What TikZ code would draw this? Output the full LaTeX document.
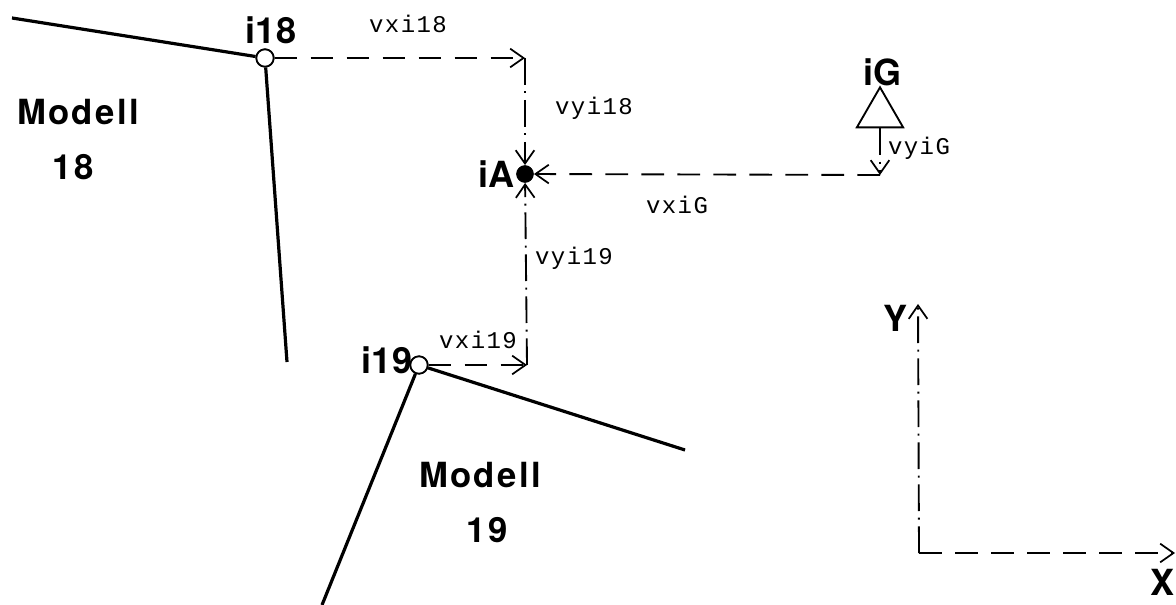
\documentclass[tikz,border=0pt]{standalone}
\usepackage{fontspec}
\setmainfont{TeX Gyre Heros}
\newfontfamily\monofnt[LetterSpace=6]{Liberation Mono}
\newfontfamily\spacedfnt[LetterSpace=7]{TeX Gyre Heros}
\usetikzlibrary{arrows.meta,shapes.geometric}
\begin{document}
\begin{tikzpicture}[x=0.75pt,y=-0.75pt,
  thickline/.style={line width=2.4pt},
  tipstyle/.style={-{Straight Barb[length=10pt,width=14pt,line width=1.3pt]}},
  dashline/.style={line width=1.4pt,dash pattern=on 17pt off 10pt,tipstyle},
  dashdotline/.style={line width=1.4pt,dash pattern=on 20pt off 5pt on 1.5pt off 5pt,tipstyle},
  vlabel/.style={font=\monofnt\fontsize{18}{18}\selectfont,inner sep=0pt},
  blabel/.style={font=\bfseries\fontsize{27}{27}\selectfont,inner sep=0pt},
  mlabel/.style={font=\spacedfnt\bfseries\fontsize{26}{26}\selectfont,inner sep=0pt},
  opennode/.style={circle,draw,line width=1.3pt,fill=white,minimum size=13pt,inner sep=0pt},
  filled/.style={circle,fill=black,minimum size=13pt,inner sep=0pt}]
\useasboundingbox (0,0) rectangle (1176,605);

% nodes
\node[opennode] (i18) at (265,58) {};
\node[filled] (iA) at (525,174) {};
\node[opennode] (i19) at (419,365) {};
\node[regular polygon,regular polygon sides=3,draw,line width=1.4pt,minimum size=40pt,inner sep=0pt] (iG) at (880,114) {};

% coordinates
\coordinate (a18) at (12,18);
\coordinate (b18) at (287,362);
\coordinate (c18) at (525,58);
\coordinate (c19) at (527,365);
\coordinate (a19) at (685,450);
\coordinate (b19) at (322,605);
\coordinate (cG) at (880,175);
\coordinate (O) at (919,553);
\coordinate (Yt) at (918,304);
\coordinate (Xt) at (1175,553);

% model outlines
\draw[thickline] (a18) -- (i18);
\draw[thickline] (i18) -- (b18);
\draw[thickline] (i19) -- (a19);
\draw[thickline] (i19) -- (b19);

% vectors
\draw[dashline] (i18) -- (c18);
\draw[dashdotline] (c18) -- (iA);
\draw[dashline] (i19) -- (c19);
\draw[dashdotline] (c19) -- (iA);
\draw[dashdotline] (iG.south) -- (cG);
\draw[dashline] (cG) -- (iA);

% axes
\draw[dashdotline] (O) -- (Yt);
\draw[dashline] (O) -- (Xt);

% redraw nodes on top
\node[opennode] at (i18) {};
\node[opennode] at (i19) {};
\node[filled] at (iA) {};

% labels
\node[blabel] (li18) at (271,30) {i18};
\node[blabel] (liA) at (496,174) {iA};
\node[blabel] (li19) at (387,360) {i19};
\node[blabel] (liG) at (882,72) {iG};
\node[blabel] (lY) at (895,318) {Y};
\node[blabel] (lX) at (1162,582) {X};

\node[vlabel] (lvxi18) at (408,24) {vxi18};
\node[vlabel] (lvyi18) at (594,108) {vyi18};
\node[vlabel] (lvxiG) at (677,205) {vxiG};
\node[vlabel] (lvyiG) at (919,148) {vyiG};
\node[vlabel] (lvyi19) at (574,258) {vyi19};
\node[vlabel] (lvxi19) at (478,340) {vxi19};

\node[mlabel] (m18) at (78,112) {Modell};
\node[mlabel] (n18) at (73,167) {18};
\node[mlabel] (m19) at (480,475) {Modell};
\node[mlabel] (n19) at (487,530) {19};
\end{tikzpicture}
\end{document}
